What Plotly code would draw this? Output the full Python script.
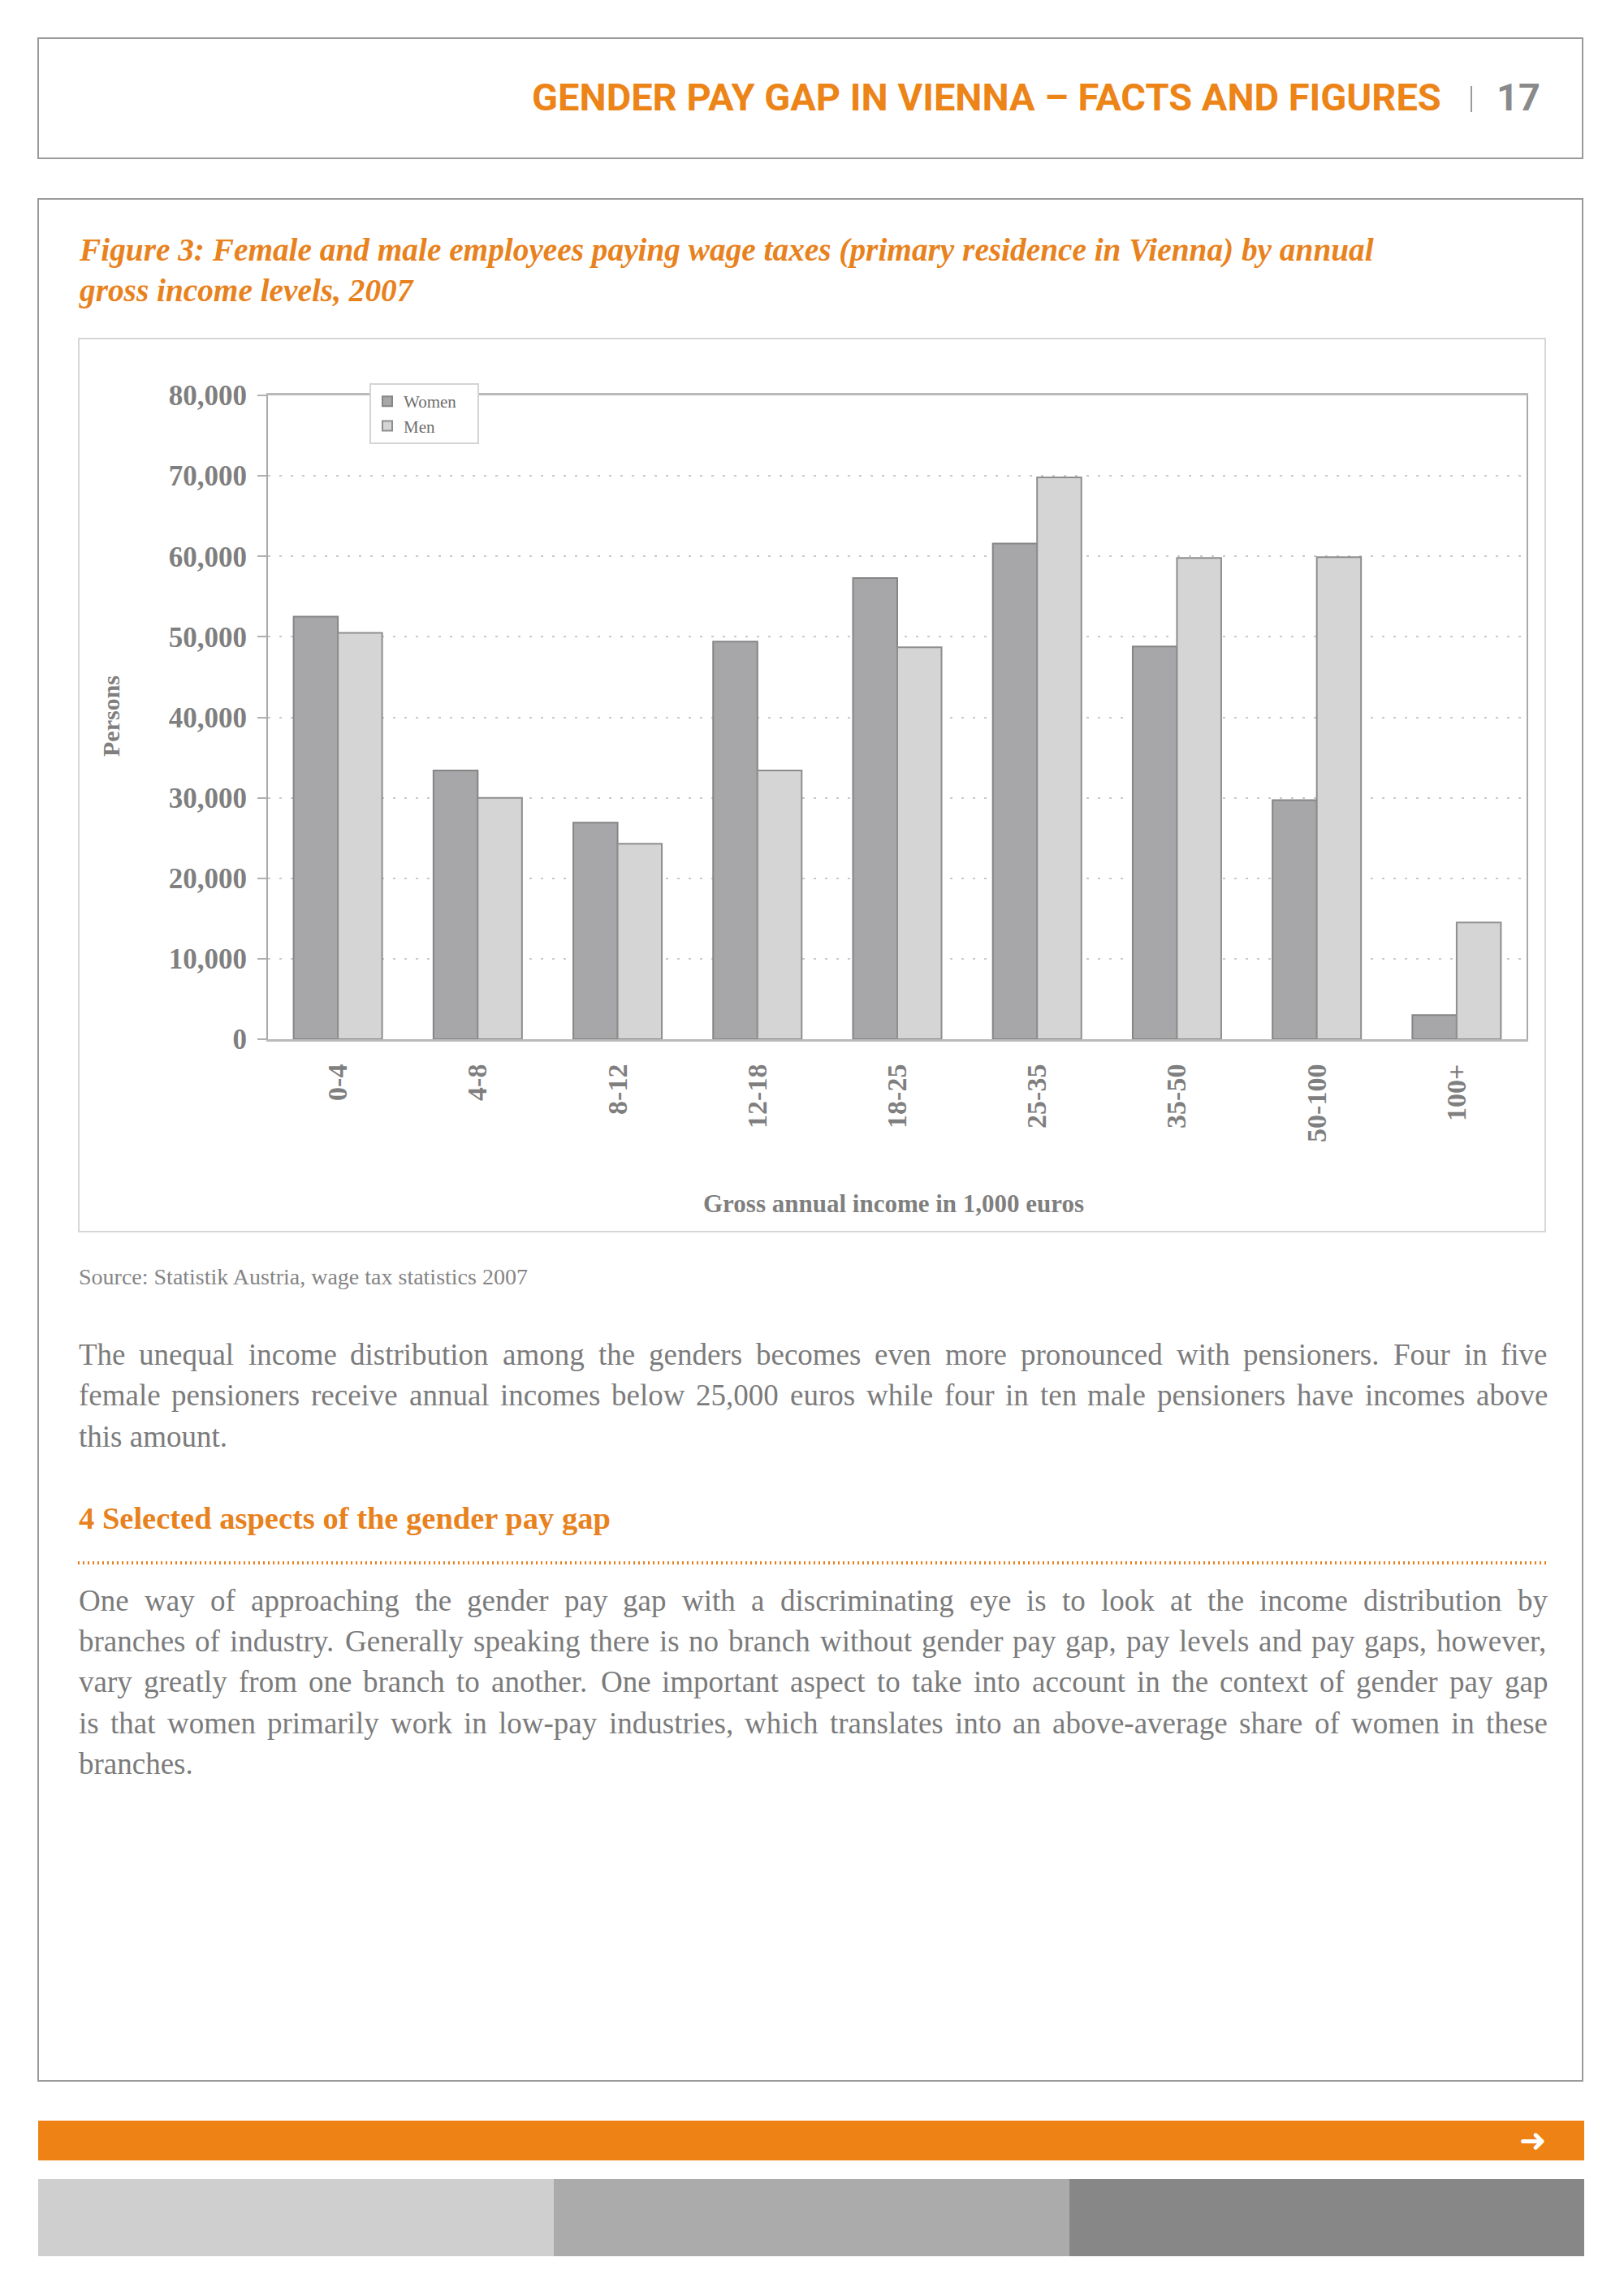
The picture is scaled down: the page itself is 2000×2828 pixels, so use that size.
import plotly.graph_objects as go

# page is 2000x2828; the html body adds an 8px margin, so the figure is placed at (8, 8)
PAGE_W, PAGE_H = 2000, 2828
OFF = 8
W, H = PAGE_W - 2 * OFF, PAGE_H - 2 * OFF

# ---------------- data ----------------
categories = ["0-4", "4-8", "8-12", "12-18", "18-25", "25-35", "35-50", "50-100", "100+"]
women = [52500, 33400, 26900, 49400, 57300, 61600, 48800, 29700, 3000]
men = [50500, 30000, 24300, 33400, 48700, 69800, 59800, 59900, 14500]
y_tickvals = [0, 10000, 20000, 30000, 40000, 50000, 60000, 70000, 80000]
y_ticktext = ["0", "10,000", "20,000", "30,000", "40,000", "50,000", "60,000", "70,000", "80,000"]

header_text = "GENDER PAY GAP IN VIENNA – FACTS AND FIGURES"
page_number = "17"
title_lines = ["Figure 3: Female and male employees paying wage taxes (primary residence in Vienna) by annual",
               "gross income levels, 2007"]
x_title = "Gross annual income in 1,000 euros"
y_title = "Persons"
source_text = "Source: Statistik Austria, wage tax statistics 2007"
para1 = ["The unequal income distribution among the genders becomes even more pronounced with pensioners. Four in five",
         "female pensioners receive annual incomes below 25,000 euros while four in ten male pensioners have incomes above",
         "this amount."]
heading = "4 Selected aspects of the gender pay gap"
para2 = ["One way of approaching the gender pay gap with a discriminating eye is to look at the income distribution by",
         "branches of industry. Generally speaking there is no branch without gender pay gap, pay levels and pay gaps, however,",
         "vary greatly from one branch to another. One important aspect to take into account in the context of gender pay gap",
         "is that women primarily work in low-pay industries, which translates into an above-average share of women in these",
         "branches."]

# ---------------- helpers ----------------
def px(x):
    return (x - OFF) / W

def py(y):
    return 1 - (y - OFF) / H

ORANGE = "#e8821e"
TXT = "#7b7b7b"
SERIF = "Liberation Serif, Times New Roman, serif"
SANS = "Roboto, Liberation Sans, sans-serif"

# Times / Liberation Serif advance widths (em)
TW = dict(zip("abcdefghijklmnopqrstuvwxyz",
              [.444, .5, .444, .5, .444, .333, .5, .5, .278, .278, .5, .278, .778, .5, .5, .5, .5, .333, .389, .278, .5, .5, .722, .5, .5, .444]))
TW.update(dict(zip("ABCDEFGHIJKLMNOPQRSTUVWXYZ",
                   [.722, .667, .667, .722, .611, .556, .722, .722, .333, .389, .722, .611, .889, .722, .722, .556, .722, .667, .556, .611, .722, .722, .944, .722, .722, .611])))
TW.update({d: .5 for d in "0123456789"})
TW.update({" ": .25, ".": .25, ",": .25, "-": .333, ":": .278, "(": .333, ")": .333})

def wwidth(word, size):
    return sum(TW.get(c, .5) for c in word) * size

annotations = []

def text_ann(text, x, y, size, color=TXT, family=SERIF, xanchor="left", weight="normal", style="normal", angle=0):
    annotations.append(dict(text=text, x=px(x), y=py(y), xref="paper", yref="paper",
                            xanchor=xanchor, yanchor="middle", showarrow=False, borderpad=0,
                            textangle=angle,
                            font=dict(size=size, color=color, family=family, weight=weight, style=style)))

def justified(line, x0, x1, y, size):
    words = line.split(" ")
    widths = [wwidth(w, size) for w in words]
    gap = (x1 - x0 - sum(widths)) / (len(words) - 1)
    x = x0
    for w, wd in zip(words, widths):
        text_ann(w, x, y, size)
        x += wd + gap

# ---------------- chart ----------------
fig = go.Figure()
fig.add_trace(go.Bar(name="Women\u00a0\u00a0\u00a0\u00a0", x=categories, y=women, legendgroup="w",
                     marker=dict(color="#a7a7a9", line=dict(color="#858585", width=2))))
fig.add_trace(go.Bar(name="Men", x=categories, y=men, legendgroup="m",
                     marker=dict(color="#d5d5d5", line=dict(color="#8e8e8e", width=2))))

fig.update_layout(
    width=W, height=H,
    margin=dict(l=0, r=0, t=0, b=0, pad=0, autoexpand=False),
    paper_bgcolor="white", plot_bgcolor="white",
    barmode="group", bargap=0.367, bargroupgap=0,
    showlegend=True,
    legend=dict(x=px(455), y=py(472), xanchor="left", yanchor="top",
                bgcolor="white", bordercolor="#d4d4d4", borderwidth=2,
                font=dict(family=SERIF, size=21, color="#6e6e6e"),
                itemwidth=30, tracegroupgap=0, traceorder="normal"),
    xaxis=dict(domain=[px(330), px(1880)], showline=True, linecolor="#b9b9b9", linewidth=3,
               mirror=True, showgrid=False, ticks="", tickangle=-90, automargin=False,
               ticklabelstandoff=14,
               tickfont=dict(family=SERIF, size=34, color="#7f7f7f", weight="bold")),
    yaxis=dict(domain=[py(1280), py(487)], range=[0, 80000], showline=True, linecolor="#a9a9a9",
               linewidth=2, mirror=True, tickvals=y_tickvals, ticktext=y_ticktext, automargin=False,
               ticks="outside", ticklen=11, tickcolor="#b0b0b0", tickwidth=2, ticklabelstandoff=6,
               showgrid=True, gridcolor="#c9c9c9", gridwidth=2, griddash="3px,11px",
               zeroline=False,
               tickfont=dict(family=SERIF, size=35, color="#7f7f7f", weight="bold")),
)

# axis titles
text_ann(y_title, 137, 882, 30, color="#7f7f7f", xanchor="center", weight="bold", angle=-90)
text_ann(x_title, 1100, 1482, 31, color="#7f7f7f", xanchor="center", weight="bold")

# ---------------- page furniture ----------------
shapes = []

def rect(x0, y0, x1, y1, line=None, fill=None, lw=2):
    shapes.append(dict(type="rect", xref="paper", yref="paper",
                       x0=px(x0), x1=px(x1), y0=py(y1), y1=py(y0),
                       line=dict(color=line if line else "rgba(0,0,0,0)", width=lw if line else 0),
                       fillcolor=fill if fill else "rgba(0,0,0,0)", layer="below"))

rect(47, 47, 1949, 195, line="#9a9a9a")           # header box
rect(47, 245, 1949, 2563, line="#9a9a9a")         # content box
rect(97, 417, 1903, 1517, line="#d6d6d6")         # chart frame
rect(47, 2612, 1951, 2661, fill="#ee8214")        # orange bar
rect(47, 2684, 682, 2779, fill="#cfcfcf")
rect(682, 2684, 1317, 2779, fill="#ababac")
rect(1317, 2684, 1951, 2779, fill="#878788")
shapes.append(dict(type="line", xref="paper", yref="paper", x0=px(1812), x1=px(1812),
                   y0=py(106), y1=py(138), line=dict(color="#9a9a9a", width=2)))
shapes.append(dict(type="line", xref="paper", yref="paper", x0=px(96), x1=px(1905),
                   y0=py(1925), y1=py(1925), line=dict(color=ORANGE, width=4, dash="2px,4px")))

# header
text_ann(header_text, 1776, 120, 47, color="#ec8418", family=SANS, xanchor="right", weight="bold")
text_ann(page_number, 1870, 120, 47, color="#8a8a8a", family=SANS, xanchor="center", weight="bold")

# figure title
text_ann(title_lines[0], 96, 308, 39.3, color=ORANGE, weight="bold", style="italic")
text_ann(title_lines[1], 96, 358, 39.3, color=ORANGE, weight="bold", style="italic")

# source
text_ann(source_text, 96, 1572, 28, color="#858585")

# paragraphs
BODY = 37
p1_y = [1668, 1718, 1769]
for i, line in enumerate(para1):
    if i < len(para1) - 1:
        justified(line, 96, 1905, p1_y[i], BODY)
    else:
        text_ann(line, 96, p1_y[i], BODY)

text_ann(heading, 96, 1870, 38.5, color=ORANGE, weight="bold")

p2_y = [1971, 2021, 2071, 2122, 2172]
for i, line in enumerate(para2):
    if i < len(para2) - 1:
        justified(line, 96, 1905, p2_y[i], BODY)
    else:
        text_ann(line, 96, p2_y[i], BODY)

# arrow in footer
text_ann("➜", 1888, 2636, 40, color="white", family="DejaVu Sans", xanchor="center", weight="bold")

fig.update_layout(annotations=annotations, shapes=shapes)
fig.write_html("out.html")
